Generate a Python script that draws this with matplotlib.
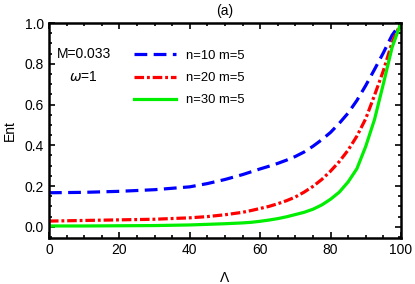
import matplotlib
matplotlib.use("Agg")
import matplotlib.pyplot as plt
from matplotlib.ticker import MultipleLocator, FormatStrFormatter

plt.rcParams["font.family"] = ["Liberation Sans", "DejaVu Sans"]

# Lambda grid
lam = [0, 10, 20, 30, 40, 45, 50, 55, 57.5, 60, 62.5, 65, 67.5, 70, 72.5, 75,
       77.5, 80, 82.5, 85, 87.5, 90, 92.5, 95, 97.5, 100]

ent_n10 = [0.167, 0.169, 0.174, 0.182, 0.196, 0.212, 0.232, 0.256, 0.270, 0.284,
           0.297, 0.311, 0.327, 0.345, 0.367, 0.395, 0.427, 0.463, 0.508, 0.558,
           0.620, 0.693, 0.772, 0.853, 0.940, 1.000]
ent_n20 = [0.028, 0.031, 0.034, 0.037, 0.044, 0.050, 0.059, 0.071, 0.080, 0.090,
           0.100, 0.113, 0.128, 0.146, 0.170, 0.198, 0.232, 0.273, 0.320, 0.376,
           0.445, 0.530, 0.645, 0.765, 0.905, 1.000]
ent_n30 = [0.004, 0.004, 0.005, 0.006, 0.009, 0.012, 0.015, 0.019, 0.022, 0.027,
           0.033, 0.040, 0.049, 0.060, 0.071, 0.086, 0.107, 0.135, 0.170, 0.220,
           0.285, 0.394, 0.526, 0.700, 0.880, 1.000]

labels = ["n=10 m=5", "n=20 m=5", "n=30 m=5"]

fig = plt.figure(figsize=(4.15, 2.84), dpi=100)
ax = fig.add_axes([0.118, 0.162, 0.848, 0.757])

lw = 2.3
l1, = ax.plot(lam, ent_n10, color="#0000ff", lw=lw, dashes=(4, 2), label=labels[0])
l2, = ax.plot(lam, ent_n20, color="#ff0000", lw=lw, dashes=(3, 0.9, 0.9, 0.9), label=labels[1])
l3, = ax.plot(lam, ent_n30, color="#00ee00", lw=lw, label=labels[2])

ax.set_xlim(0, 100)
ax.set_ylim(-0.055, 1.0)
ax.xaxis.set_major_locator(MultipleLocator(20))
ax.xaxis.set_minor_locator(MultipleLocator(5))
ax.yaxis.set_major_locator(MultipleLocator(0.2))
ax.yaxis.set_minor_locator(MultipleLocator(0.05))
ax.yaxis.set_major_formatter(FormatStrFormatter("%.1f"))

ax.tick_params(which="both", direction="in", top=True, right=True, width=1.2, labelsize=10)
ax.tick_params(which="major", length=4.5)
ax.tick_params(which="minor", length=2.5)
for s in ax.spines.values():
    s.set_linewidth(1.8)

ax.set_xlabel("Λ", fontsize=10, labelpad=10)
ax.set_ylabel("Ent", fontsize=10, labelpad=6)
ax.set_title("(a)", fontsize=10, pad=6)

ax.text(0.099, 0.855, "M=0.033", transform=ax.transAxes, fontsize=10, ha="center", va="center")
ax.text(0.099, 0.748, r"$\omega$=1", transform=ax.transAxes, fontsize=10, ha="center", va="center")

ax.legend(handles=[l1, l2, l3], loc="upper left", bbox_to_anchor=(0.2415, 0.876),
          frameon=False, fontsize=9.4, handlelength=3.2, handletextpad=0.77,
          labelspacing=0.78, borderaxespad=0, borderpad=0)

fig.savefig("out.png", dpi=100)
